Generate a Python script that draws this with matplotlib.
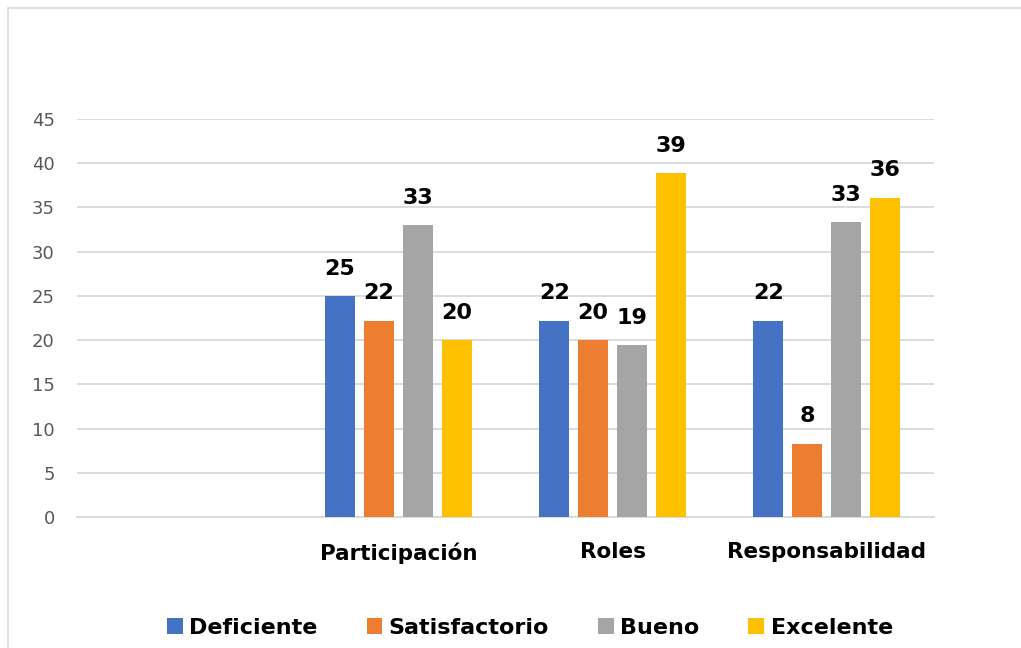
import numpy as np
import matplotlib
matplotlib.use("Agg")
import matplotlib.pyplot as plt
from matplotlib.patches import Rectangle

plt.rcParams['font.family'] = ['DejaVu Sans']

categories = ['', 'Participación', 'Roles', 'Responsabilidad']
series = ['Deficiente', 'Satisfactorio', 'Bueno', 'Excelente']
deficiente = [np.nan, 25.0, 22.2, 22.2]
satisfactorio = [np.nan, 22.2, 20.0, 8.3]
bueno = [np.nan, 33.0, 19.4, 33.3]
excelente = [np.nan, 20.0, 38.9, 36.1]
colors = ['#4472C4', '#ED7D31', '#A5A5A5', '#FFC000']

fig = plt.figure(figsize=(10.21, 6.48), dpi=100)
fig.patches.append(Rectangle((8/1021, -0.1), 1.2, 1 - 8/648 + 0.1, transform=fig.transFigure,
                             fill=False, edgecolor='#d9d9d9', linewidth=1.2))
ax = fig.add_axes([77/1021, 1 - 517/648, (934 - 77)/1021, (517 - 119)/648])

x = np.arange(len(categories))
w = 0.14
step = 0.182
for i, (vals, name) in enumerate(zip([deficiente, satisfactorio, bueno, excelente], series)):
    pos = x + (i - 1.5) * step
    ax.bar(pos, vals, w, color=colors[i], label=name, zorder=3)
    for p, v in zip(pos, vals):
        if not np.isnan(v):
            ax.text(p, v + 2.4, f'{v:.0f}', ha='center', va='baseline',
                    fontsize=16, fontweight='bold', color='black')

ax.set_xlim(-0.5, 3.5)
ax.set_ylim(0, 45)
ax.set_yticks(np.arange(0, 46, 5))
ax.set_xticks(x)
ax.set_xticklabels(categories, fontsize=15.5, fontweight='bold')
ax.tick_params(axis='x', length=0, pad=18)
ax.tick_params(axis='y', length=0, pad=16, labelsize=13, labelcolor='#595959')
ax.grid(axis='y', color='#d9d9d9', linewidth=1.3, zorder=0)
for s in ['top', 'right', 'left']:
    ax.spines[s].set_visible(False)
ax.spines['bottom'].set_color('#d9d9d9')
ax.spines['bottom'].set_linewidth(1.3)

fig.legend(loc='center', bbox_to_anchor=(530/1021, 1 - 628/648), ncol=4, frameon=False,
           prop={'size': 16, 'weight': 'bold'}, handlelength=0.7, handleheight=0.7,
           handletextpad=0.3, columnspacing=2.2)

fig.savefig('out.png', dpi=100)
